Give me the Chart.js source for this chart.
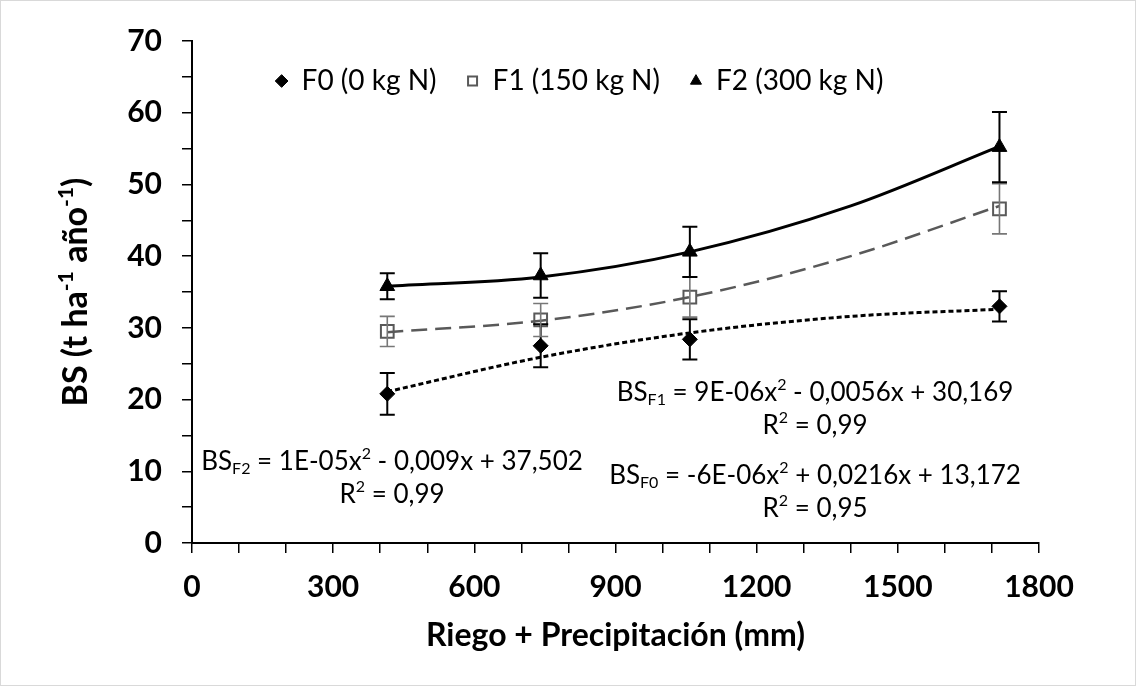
<!DOCTYPE html>
<html>
<head>
<meta charset="utf-8">
<script src="https://cdn.jsdelivr.net/npm/chart.js@4.4.1/dist/chart.umd.min.js"></script>
<style>
  html, body { margin: 0; padding: 0; background: #fff; }
  #wrap { position: relative; width: 1136px; height: 686px; }
</style>
</head>
<body>
<div id="wrap"><canvas id="chart"></canvas></div>
<script>
// Riego + precipitación (mm) de cada tratamiento
const waterMm = [415, 741, 1058, 1716];

// BS medio (t/ha/año) y error de cada dosis de N
const f0Mean = [20.8, 27.5, 28.4, 33.0];
const f0Err = [2.9, 3.0, 2.8, 2.1];
const f1Mean = [29.5, 31.1, 34.3, 46.6];
const f1Err = [2.1, 2.3, 2.8, 3.5];
const f2Mean = [35.8, 37.3, 40.6, 55.2];
const f2Err = [1.8, 3.1, 3.5, 4.9];

// líneas de tendencia
const trendMm = [415, 741, 1058, 1400, 1716];
const f0Trend = [21.1, 25.9, 29.3, 31.6, 32.6];
const f1Trend = [29.4, 31.0, 34.3, 40.0, 47.0];
const f2Trend = [35.8, 37.1, 40.6, 47.0, 55.3];

const seriesNames = ['F0 (0 kg N)', 'F1 (150 kg N)', 'F2 (300 kg N)'];
const xLabelEvery = 300;
const yLabelEvery = 10;

// textos con [texto, 'sub' | 'sup' | undefined]
const yTitle = [['BS (t ha'], ['-1', 'sup'], [' año'], ['-1', 'sup'], [')']];
const eqF1 = [['BS'], ['F1', 'sub'], [' = 9E-06x'], ['2', 'sup'], [' - 0,0056x + 30,169']];
const eqF2 = [['BS'], ['F2', 'sub'], [' = 1E-05x'], ['2', 'sup'], [' - 0,009x + 37,502']];
const eqF0 = [['BS'], ['F0', 'sub'], [' = -6E-06x'], ['2', 'sup'], [' + 0,0216x + 13,172']];
const r2F1 = [['R'], ['2', 'sup'], [' = 0,99']];
const r2F2 = [['R'], ['2', 'sup'], [' = 0,99']];
const r2F0 = [['R'], ['2', 'sup'], [' = 0,95']];

const FONT = 'Lato, "Liberation Sans", sans-serif';
const GRAY = '#595959';

const toPts = (xs, ys) => xs.map((x, i) => ({ x, y: ys[i] }));

// ecuaciones ancladas en coordenadas de datos
const textBlocks = [
  { parts: eqF1, x: 1324, y: 21.0 },
  { parts: r2F1, x: 1324, y: 16.3 },
  { parts: eqF2, x: 425, y: 11.4 },
  { parts: r2F2, x: 425, y: 6.8 },
  { parts: eqF0, x: 1324, y: 9.4 },
  { parts: r2F0, x: 1324, y: 4.8 },
];

function drawRich(ctx, parts, cx, cy, size, weight = '') {
  const base = `${weight} ${size}px ${FONT}`;
  const small = `${weight} ${Math.round(size * 0.62)}px ${FONT}`;
  let w = 0;
  parts.forEach((p) => { ctx.font = p[1] ? small : base; w += ctx.measureText(p[0]).width; });
  let x = cx - w / 2;
  ctx.textAlign = 'left';
  ctx.textBaseline = 'middle';
  parts.forEach((p) => {
    ctx.font = p[1] ? small : base;
    const dy = p[1] === 'sub' ? size * 0.28 : p[1] === 'sup' ? -size * 0.3 : 0;
    ctx.fillText(p[0], x, cy + dy);
    x += ctx.measureText(p[0]).width;
  });
}

const errorSets = [
  { mean: f0Mean, err: f0Err, color: '#000', width: 2 },
  { mean: f1Mean, err: f1Err, color: '#777', width: 1.6 },
  { mean: f2Mean, err: f2Err, color: '#000', width: 2 },
];

const extras = {
  id: 'extras',
  afterLayout(chart) {
    // la leyenda se dibuja dentro del área, algo a la izquierda del centro
    const lg = chart.legend;
    const area = chart.chartArea;
    lg.left = area.left - 36;
    lg.right = area.right - 36;
    lg.top = 37;
    lg.bottom = 120;
  },
  afterDatasetsDraw(chart) {
    const { ctx, chartArea, scales: { x, y } } = chart;
    ctx.save();
    errorSets.forEach((s) => {
      ctx.strokeStyle = s.color;
      ctx.lineWidth = s.width;
      waterMm.forEach((mm, i) => {
        const px = x.getPixelForValue(mm);
        const top = y.getPixelForValue(s.mean[i] + s.err[i]);
        const bot = y.getPixelForValue(s.mean[i] - s.err[i]);
        ctx.beginPath();
        ctx.moveTo(px, top); ctx.lineTo(px, bot);
        ctx.moveTo(px - 7.5, top); ctx.lineTo(px + 7.5, top);
        ctx.moveTo(px - 7.5, bot); ctx.lineTo(px + 7.5, bot);
        ctx.stroke();
      });
    });
    ctx.fillStyle = '#000';
    textBlocks.forEach((b) => {
      drawRich(ctx, b.parts, x.getPixelForValue(b.x), y.getPixelForValue(b.y), 26);
    });
    // título del eje Y, girado
    ctx.save();
    ctx.translate(76, (chartArea.top + chartArea.bottom) / 2);
    ctx.rotate(-Math.PI / 2);
    drawRich(ctx, yTitle, 0, 0, 34, 'bold');
    ctx.restore();
    ctx.restore();
  },
  afterDraw(chart) {
    const { ctx, width, height } = chart;
    ctx.save();
    ctx.strokeStyle = '#d9d9d9';
    ctx.lineWidth = 1;
    ctx.strokeRect(0.5, 0.5, width - 1, height - 1);
    ctx.restore();
  },
};

const lineDefaults = { showLine: true, pointRadius: 0, cubicInterpolationMode: 'monotone', fill: false };

new Chart(document.getElementById('chart'), {
  type: 'scatter',
  data: {
    datasets: [
      {
        label: seriesNames[0], data: toPts(waterMm, f0Mean),
        pointStyle: 'rectRot', pointRadius: 7.5, pointBackgroundColor: '#000', pointBorderColor: '#000', pointBorderWidth: 1,
      },
      {
        label: seriesNames[1], data: toPts(waterMm, f1Mean),
        pointStyle: 'rect', pointRadius: 9, pointBackgroundColor: 'rgba(255,255,255,0)', pointBorderColor: GRAY, pointBorderWidth: 2,
      },
      {
        label: seriesNames[2], data: toPts(waterMm, f2Mean),
        pointStyle: 'triangle', pointRadius: 8.5, pointBackgroundColor: '#000', pointBorderColor: '#000', pointBorderWidth: 1,
      },
      { ...lineDefaults, label: 'trend F0', data: toPts(trendMm, f0Trend), borderColor: '#000', borderWidth: 3, borderDash: [5, 3] },
      { ...lineDefaults, label: 'trend F1', data: toPts(trendMm, f1Trend), borderColor: GRAY, borderWidth: 2.5, borderDash: [16, 8] },
      { ...lineDefaults, label: 'trend F2', data: toPts(trendMm, f2Trend), borderColor: '#000', borderWidth: 3 },
    ],
  },
  options: {
    responsive: true,
    maintainAspectRatio: false,
    animation: false,
    devicePixelRatio: 1,
    layout: { padding: { left: 0, top: 0, right: 97, bottom: 0 } },
    plugins: {
      tooltip: { enabled: false },
      legend: {
        position: 'top',
        align: 'center',
        maxHeight: 41,
        labels: {
          usePointStyle: true,
          boxWidth: 12,
          boxHeight: 9,
          padding: 30,
          color: '#000',
          font: { family: FONT, size: 28 },
          filter: (item) => item.datasetIndex < 3,
        },
      },
    },
    scales: {
      x: {
        type: 'linear',
        min: 0,
        max: 1800,
        afterFit: (s) => { s.height = 143; },
        border: { display: true, color: '#000', width: 2 },
        grid: { display: true, drawOnChartArea: false, drawTicks: true, tickLength: 10, color: '#000', lineWidth: 1.5 },
        ticks: {
          stepSize: 100,
          autoSkip: false,
          maxRotation: 0,
          padding: 16,
          color: '#000',
          font: { family: FONT, size: 30, weight: 'bold' },
          callback: (v) => (v % xLabelEvery === 0 ? v : ''),
        },
        title: {
          display: true,
          text: 'Riego + Precipitación (mm)',
          color: '#000',
          font: { family: FONT, size: 32, weight: 'bold' },
          padding: { top: 0, bottom: 31 },
        },
      },
      y: {
        min: 0,
        max: 70,
        afterFit: (s) => { s.width = 192; },
        border: { display: true, color: '#000', width: 2 },
        grid: { display: true, drawOnChartArea: false, drawTicks: true, tickLength: 10, color: '#000', lineWidth: 1.5 },
        ticks: {
          stepSize: 5,
          autoSkip: false,
          padding: 20,
          color: '#000',
          font: { family: FONT, size: 30, weight: 'bold' },
          callback: (v) => (v % yLabelEvery === 0 ? v : ''),
        },
        title: { display: false },
      },
    },
  },
  plugins: [extras],
});
</script>
</body>
</html>
